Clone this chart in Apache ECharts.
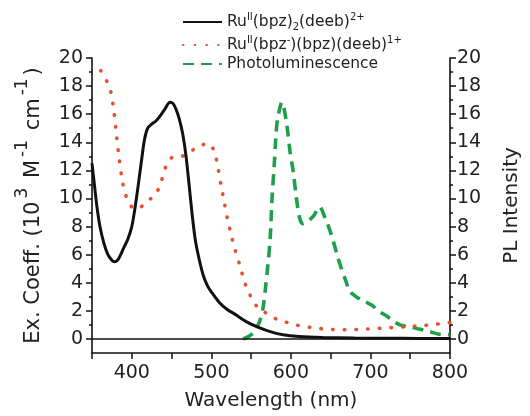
<!DOCTYPE html>
<html>
<head>
<meta charset="utf-8">
<script src="https://cdn.jsdelivr.net/npm/echarts@6/dist/echarts.min.js"></script>
<style>html,body{margin:0;padding:0;background:#fff}#c{width:530px;height:416px}</style>
</head>
<body>
<div id="c"></div>
<script>
// Ru(II)(bpz)2(deeb)2+ absorption
var wlA = [350,353,356,360,365,370,375,378,382,386,390,395,400,404,408,412,416,420,425,430,436,442,448,452,456,460,464,468,472,476,480,485,490,495,500,510,520,530,545,560,575,590,610,640,680,720,760,800];
var absA = [12.5,11.0,9.5,8.0,6.8,6.0,5.6,5.5,5.6,6.0,6.5,7.1,8.0,9.3,10.9,12.6,14.2,15.0,15.3,15.5,15.9,16.4,16.85,16.75,16.3,15.6,14.6,13.1,11.0,8.8,7.0,5.6,4.5,3.8,3.35,2.6,2.1,1.75,1.2,0.8,0.5,0.3,0.18,0.11,0.07,0.05,0.04,0.03];
// Ru(II)(bpz-)(bpz)(deeb)1+ absorption
var wlB = [361,365,370,374,378,381,384,388,392,397,402,408,414,420,426,432,437,441,445,450,455,462,470,478,486,493,499,504,508,512,516,520,525,530,536,542,548,556,565,575,585,597,611,625,640,655,670,685,700,715,730,745,760,775,790,800];
var absB = [19.1,18.7,18.2,17.5,16.0,14.4,12.9,11.3,10.3,9.7,9.3,9.3,9.5,9.8,10.1,10.5,11.2,12.0,12.5,12.9,13.0,13.0,13.2,13.5,13.7,13.9,13.8,13.3,12.3,11.0,9.8,8.6,7.4,6.3,5.2,4.0,3.2,2.4,2.0,1.6,1.35,1.15,0.94,0.82,0.72,0.67,0.66,0.68,0.72,0.77,0.82,0.87,0.93,1.0,1.1,1.17];
// Photoluminescence
var wlC = [540,546,552,557,561,565,568,571,574,576.5,579,581,583,586,588.5,591,595,599,603,607,611,615,621,629,636,643,651,658,663,668,674,681,688,695,702,708,714,720,728,737,745,753,761,769,777,785,800];
var plC = [0,0.15,0.4,0.8,1.3,2.2,3.6,5.2,7.2,10.2,12.3,14.3,15.6,16.4,16.85,16.5,15.2,13.3,11.9,10.0,8.6,8.2,8.35,8.8,9.4,8.6,7.4,6.0,5.1,4.3,3.4,3.05,2.8,2.6,2.4,2.1,1.85,1.65,1.3,1.0,0.9,0.82,0.7,0.6,0.48,0.35,0.3];

var xLabelTicks = [400,500,600,700,800];
var xMinorTicks = [350,400,450,500,550,600,650,700,750,800];
var yLabelTicks = [0,2,4,6,8,10,12,14,16,18,20];
var yMinorTicks = [1,3,5,7,9,11,13,15,17,19];

var names = ['Ru(bpz)2(deeb)2+', 'Ru(bpz-)(bpz)(deeb)1+', 'Photoluminescence'];
var richNames = {};
richNames[names[0]] = '{a|Ru}{sup|II}{a|(bpz)}{sub|2}{a|(deeb)}{sup|2+}';
richNames[names[1]] = '{a|Ru}{sup|II}{a|(bpz}{sup|-}{a|)(bpz)(deeb)}{sup|1+}';
richNames[names[2]] = '{a|Photoluminescence}';

function pairs(xs, ys){ return xs.map(function(x,i){ return [x, ys[i]]; }); }

var FONT = 'DejaVu Sans';
var TXT = '#222';

function yAxisBase(pos, showLabel, ticks, len){
  return {
    type: 'value', position: pos, min: -1, max: 20, interval: 1,
    splitLine: {show: false},
    axisLine: {show: showLabel, lineStyle: {color: '#111', width: 1.6}},
    axisTick: {show: true, inside: false, length: len, customValues: ticks, lineStyle: {color: '#111', width: 1.5}},
    axisLabel: {show: showLabel, customValues: yLabelTicks, margin: pos==='left' ? 9 : 7, fontFamily: FONT, fontSize: 19, color: TXT},
    nameLocation: 'middle', nameRotate: 90
  };
}

var yLeft = yAxisBase('left', true, yLabelTicks, 6);
yLeft.name = '{a|Ex. Coeff. (10}{sup|3}{a| M}{sup|-1}{a| cm}{sup|-1}{a|)}';
yLeft.nameGap = 48;
yLeft.nameTextStyle = {fontFamily: FONT, color: TXT, rich: {
  a: {fontFamily: FONT, fontSize: 21, color: TXT, lineHeight: 30, verticalAlign: 'bottom'},
  sup: {fontFamily: FONT, fontSize: 17, color: TXT, lineHeight: 30, verticalAlign: 'top', padding: [0, 3, 0, 3]}
}};
var yLeftMinor = yAxisBase('left', false, yMinorTicks, 3);
var yRight = yAxisBase('right', true, yLabelTicks, 6);
yRight.name = 'PL Intensity';
yRight.nameGap = 52;
yRight.nameTextStyle = {fontFamily: FONT, fontSize: 20, color: TXT};
var yRightMinor = yAxisBase('right', false, yMinorTicks, 3);

var chart = echarts.init(document.getElementById('c'), null, {renderer: 'canvas'});
chart.setOption({
  backgroundColor: '#fff',
  animation: false,
  grid: {left: 92, right: 69, top: 58, bottom: 59, containLabel: false},
  legend: {
    data: names, orient: 'vertical', left: 177, top: 7, itemWidth: 39, itemHeight: 12, itemGap: 3,
    itemStyle: {opacity: 0},
    textStyle: {fontFamily: FONT, color: TXT, rich: {
      a: {fontFamily: FONT, fontSize: 15.5, color: TXT, lineHeight: 20},
      sup: {fontFamily: FONT, fontSize: 10, color: TXT, lineHeight: 20, verticalAlign: 'top'},
      sub: {fontFamily: FONT, fontSize: 10, color: TXT, lineHeight: 20, verticalAlign: 'bottom'}
    }},
    formatter: function(n){ return richNames[n]; }
  },
  xAxis: {
    type: 'value', min: 350, max: 800, interval: 50,
    splitLine: {show: false},
    axisLine: {onZero: false, lineStyle: {color: '#111', width: 1.6}},
    axisTick: {inside: false, length: 6, customValues: xMinorTicks, lineStyle: {color: '#111', width: 1.5}},
    axisLabel: {customValues: xLabelTicks, margin: 11, fontFamily: FONT, fontSize: 19, color: TXT},
    name: 'Wavelength (nm)', nameLocation: 'middle', nameGap: 38,
    nameTextStyle: {fontFamily: FONT, fontSize: 20, color: TXT}
  },
  yAxis: [yLeft, yLeftMinor, yRight, yRightMinor],
  series: [
    {name: names[0], type: 'line', yAxisIndex: 0, data: pairs(wlA, absA), symbol: 'none', smooth: 0.3,
     lineStyle: {color: '#111', width: 3}, itemStyle: {color: '#111'}, z: 5,
     markLine: {silent: true, symbol: ['none','none'], label: {show: false},
       lineStyle: {color: '#111', type: 'solid', width: 1.5}, data: [{yAxis: 0}]}},
    {name: names[1], type: 'line', yAxisIndex: 0, data: pairs(wlB, absB), symbol: 'none', smooth: 0.3,
     lineStyle: {color: '#e5502e', width: 3.6, type: [0.5, 11.2], cap: 'round'}, itemStyle: {color: '#e5502e'}, z: 4},
    {name: names[2], type: 'line', yAxisIndex: 2, data: pairs(wlC, plC), symbol: 'none', smooth: 0.3,
     lineStyle: {color: '#1f9e4c', width: 3.6, type: [11, 7]}, itemStyle: {color: '#1f9e4c'}, z: 3}
  ]
});
</script>
</body>
</html>
